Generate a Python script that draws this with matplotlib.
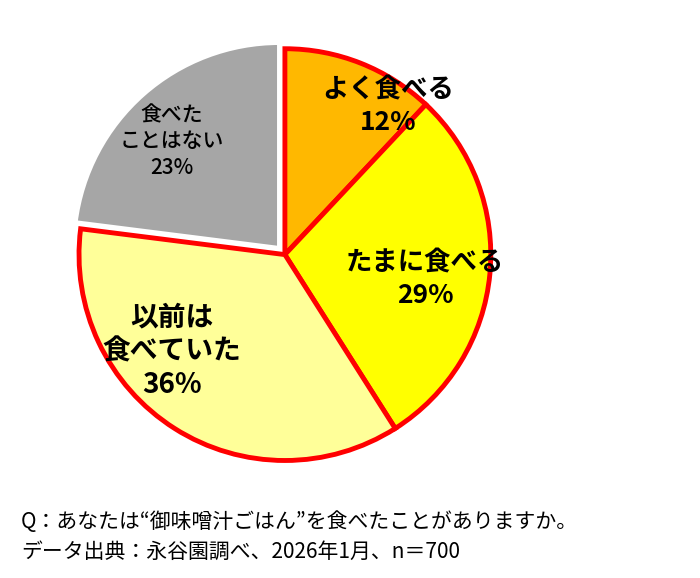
import matplotlib.pyplot as plt

plt.rcParams['font.family'] = ['Noto Sans CJK JP', 'DejaVu Sans']

labels = ["よく食べる\n12%", "たまに食べる\n29%", "以前は\n食べていた\n36%", "食べた\nことはない\n23%"]
values = [12, 29, 36, 23]
colors = ["#FFB800", "#FFFF00", "#FFFF99", "#A6A6A6"]
edges = ["#FF0000", "#FF0000", "#FF0000", "white"]
explode = [0, 0, 0, 0.04]

fig = plt.figure(figsize=(7, 5.78), dpi=100)
ax = fig.add_axes([0.107, 0.196, 0.6, 0.727])
wedges, _ = ax.pie(values, colors=colors, startangle=90, counterclock=False,
                   explode=explode, wedgeprops=dict(linewidth=3.5))
for w, ec in zip(wedges, edges):
    w.set_edgecolor(ec)
wedges[3].set_zorder(0)
ax.set_xlim(-1.02, 1.02)
ax.set_ylim(-1.02, 1.02)
ax.set_aspect('equal')

pos = [(0.5, 0.72), (0.68, -0.12), (-0.55, -0.47), (-0.55, 0.55)]
sizes = [19, 19, 20, 15]
weights = ['bold', 'bold', 'bold', 'medium']
for (x, y), t, s, fw in zip(pos, labels, sizes, weights):
    ax.text(x, y, t, ha='center', va='center', fontsize=s, linespacing=1.25, fontweight=fw)

fig.text(0.03, 0.097, "Q：あなたは“御味噌汁ごはん”を食べたことがありますか。", fontsize=15, va='center')
fig.text(0.03, 0.045, "データ出典：永谷園調べ、2026年1月、n＝700", fontsize=15, va='center')

fig.savefig("out.png", dpi=100)
